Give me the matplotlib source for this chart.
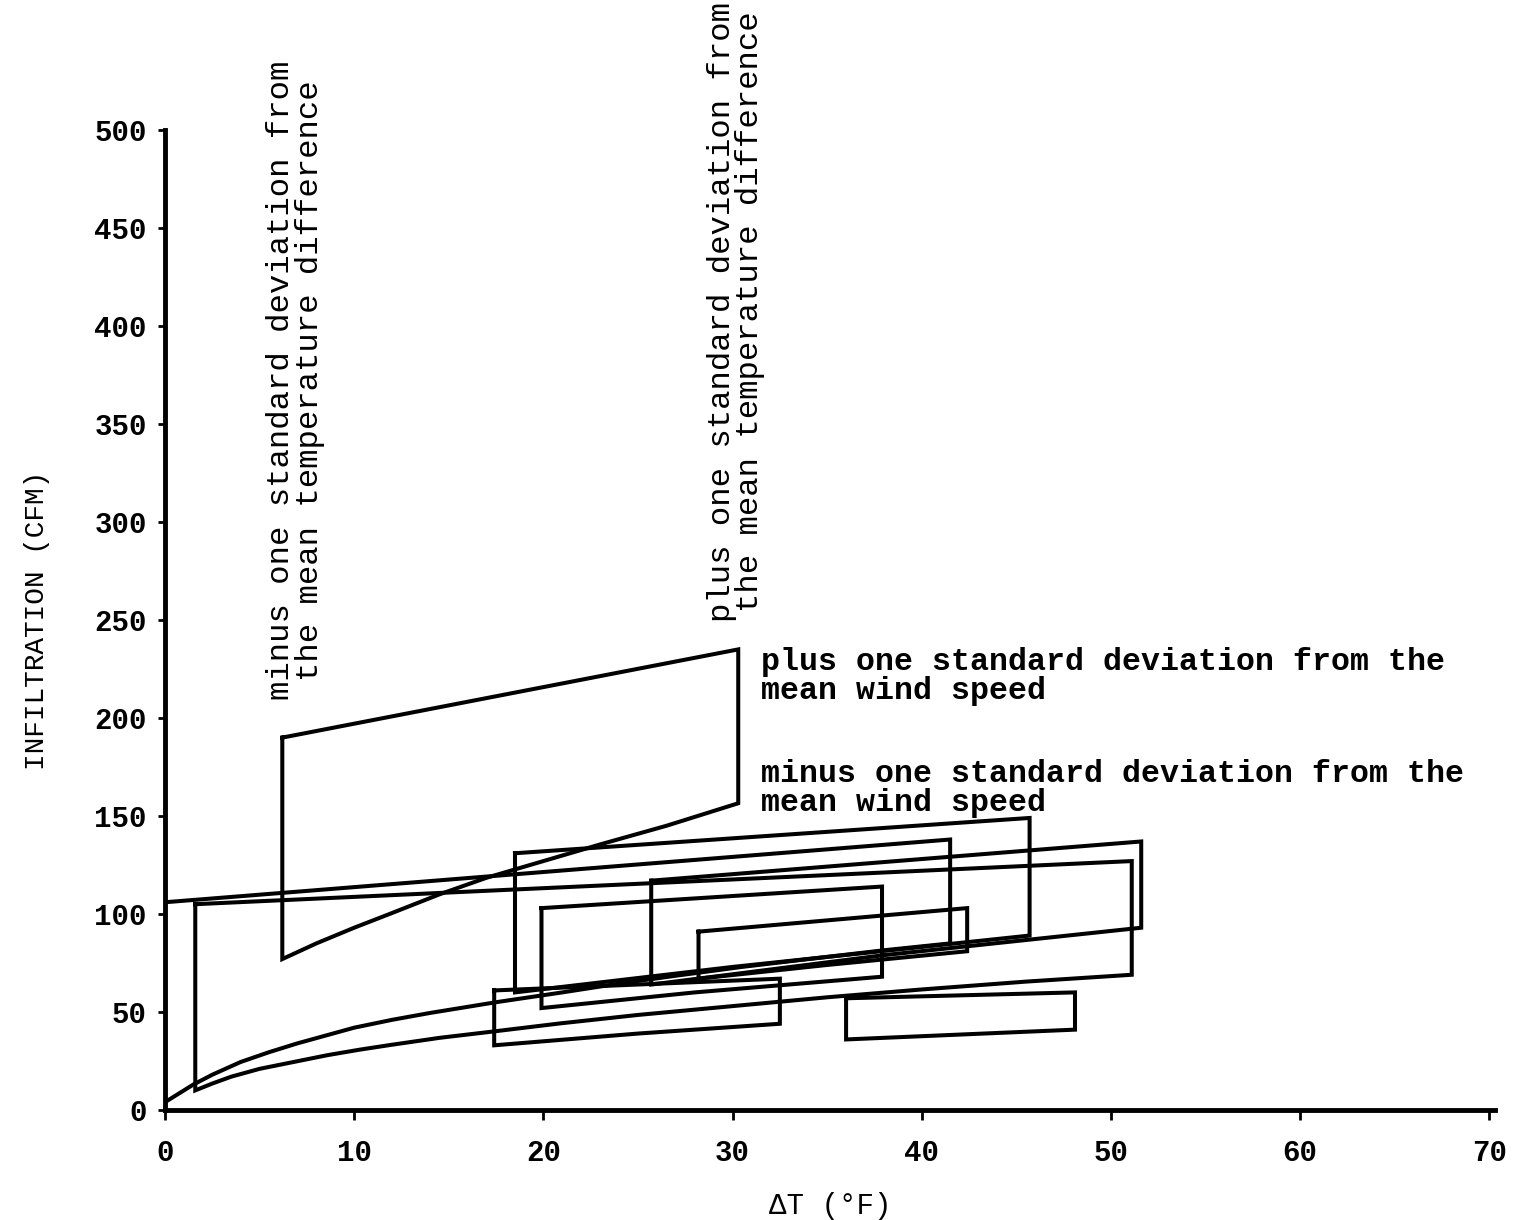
import numpy as np
import matplotlib.pyplot as plt

plt.rcParams['font.family'] = ['Liberation Mono', 'DejaVu Sans Mono']

# boxes: left/right delta T, top edge and bottom edge
box_names = ['A', 'F', 'C', 'E', 'G', 'I', 'J', 'D', 'K']

top_x = {
    'A': [6.2, 30.3],
    'F': [0.0, 41.5],
    'C': [1.6, 51.1],
    'E': [18.5, 45.7],
    'G': [25.7, 51.6],
    'I': [19.9, 37.9],
    'J': [28.2, 42.4],
    'D': [17.4, 32.5],
    'K': [36.0, 48.1],
}
top_y = {
    'A': [190, 235],
    'F': [106, 138],
    'C': [105, 127],
    'E': [131, 149],
    'G': [117, 137],
    'I': [103, 114],
    'J': [91, 103],
    'D': [61, 67],
    'K': [57, 60],
}
bot_x = {
    'A': [6.2, 8.0, 10.0, 12.0, 14.5, 17.0, 20.0, 23.0, 26.5, 30.3],
    'F': [0.0, 0.5, 1.0, 1.5, 2.5, 4.0, 5.5, 7.0, 8.5, 10.0, 12.0, 14.0,
          17.5, 21.0, 24.0, 27.0, 30.5, 34.0, 38.0, 41.5],
    'C': [1.6, 2.5, 3.5, 5.0, 6.8, 8.6, 10.3, 12.0, 14.5, 17.3, 20.9,
          25.0, 30.0, 35.0, 40.0, 45.5, 51.1],
    'E': [18.5, 30.0, 45.7],
    'G': [25.7, 38.0, 51.6],
    'I': [19.9, 28.0, 37.9],
    'J': [28.2, 35.0, 42.4],
    'D': [17.4, 25.0, 32.5],
    'K': [36.0, 48.1],
}
bot_y = {
    'A': [77, 85, 93, 100.5, 110, 118.5, 127, 135.5, 145, 156.5],
    'F': [4, 7, 10, 13, 18, 24.5, 29.5, 34, 38, 42, 46, 49.5,
          55, 60, 64.5, 68.5, 73, 77, 81.5, 85],
    'C': [10, 13.5, 17, 21, 24.5, 28, 30.8, 33.3, 36.8, 40, 44.2,
          48.5, 53, 57.5, 61.5, 65.5, 69],
    'E': [60, 73, 89],
    'G': [64, 79, 93],
    'I': [52, 60, 68],
    'J': [67, 74, 81],
    'D': [33, 39, 44],
    'K': [36, 41],
}

x_ticks = [0, 10, 20, 30, 40, 50, 60, 70]
y_ticks = [0, 50, 100, 150, 200, 250, 300, 350, 400, 450, 500]

fig = plt.figure(figsize=(15.15, 12.2), dpi=100)
ax = fig.add_axes([165 / 1515, 110 / 1220, 1330 / 1515, 980 / 1220])

for n in box_names:
    xs = top_x[n] + bot_x[n][::-1] + [top_x[n][0]]
    ys = top_y[n] + bot_y[n][::-1] + [top_y[n][0]]
    ax.plot(xs, ys, color='black', lw=2.9, solid_joinstyle='miter')

ax.set_xlim(0, 70.3)
ax.set_ylim(0, 500)
ax.set_xticks(x_ticks)
ax.set_yticks(y_ticks)
ax.set_xticklabels([str(v) for v in x_ticks], fontsize=21, fontweight='bold')
ax.set_yticklabels([str(v) for v in y_ticks], fontsize=21, fontweight='bold')
ax.tick_params(axis='x', length=7, width=2, pad=14)
ax.tick_params(axis='y', length=5, width=2, pad=8)
for s in ['top', 'right']:
    ax.spines[s].set_visible(False)
for s in ['left', 'bottom']:
    ax.spines[s].set_linewidth(3.5)

ax.set_xlabel('ΔT (°F)', fontsize=21, labelpad=18)
ax.set_ylabel('INFILTRATION (CFM)', fontsize=20, labelpad=32)

ax.text(6.9, 209, 'minus one standard deviation from\nthe mean temperature difference',
        rotation=90, ha='center', va='bottom', fontsize=23.3, linespacing=0.92)
ax.text(30.2, 249, 'plus one standard deviation from\nthe mean temperature difference',
        rotation=90, ha='center', va='bottom', fontsize=23.3, linespacing=0.92,
        clip_on=False)
ax.text(31.5, 236, 'plus one standard deviation from the\nmean wind speed',
        ha='left', va='top', fontsize=22.8, fontweight='bold', linespacing=0.95)
ax.text(31.5, 179, 'minus one standard deviation from the\nmean wind speed',
        ha='left', va='top', fontsize=22.8, fontweight='bold', linespacing=0.95)

fig.savefig('out.png', dpi=100)
